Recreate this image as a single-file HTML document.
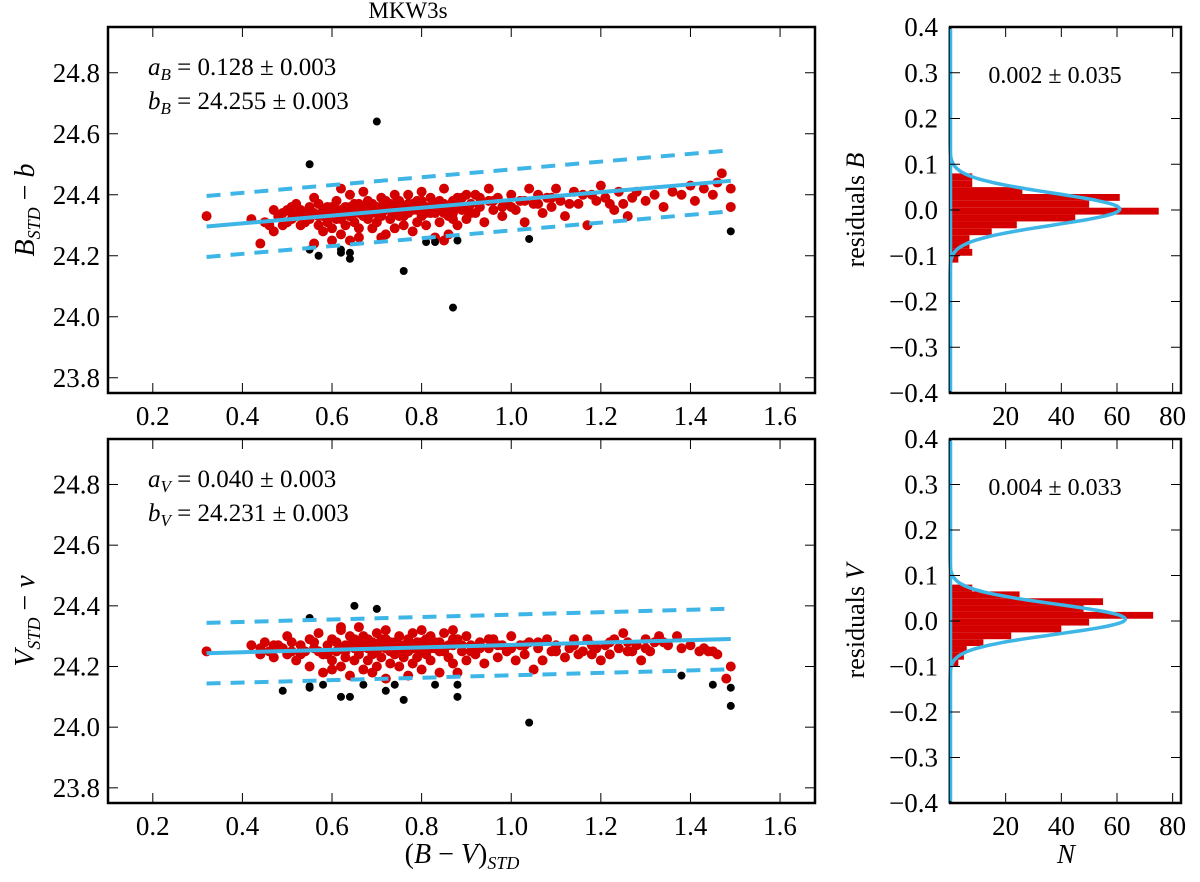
<!DOCTYPE html>
<html><head><meta charset="utf-8"><style>
body{margin:0;background:#fff}
svg{display:block;font-family:"Liberation Serif",serif}
</style></head><body>
<svg id="fig" width="1200" height="882" viewBox="0 0 1200 882" xmlns="http://www.w3.org/2000/svg">
<text x="408" y="18" font-size="23" text-anchor="middle">MKW3s</text>
</svg>
<script>
// ---- data ----
const xTicks = [0.2,0.4,0.6,0.8,1.0,1.2,1.4,1.6];
const yTicks = [23.8,24.0,24.2,24.4,24.6,24.8];
const hxTicks = [20,40,60,80];
const hyTicks = [-0.4,-0.3,-0.2,-0.1,0.0,0.1,0.2,0.3,0.4];
const fitB = [0.128, 24.255];
const fitV = [0.040, 24.231];
const bandWidth = [0.1];
const redB = [[0.32,24.33],[0.42,24.32],[0.44,24.24],[0.45,24.31],[0.46,24.30],[0.47,24.28],[0.48,24.33],[0.49,24.34],[0.50,24.35],[0.50,24.31],[0.51,24.36],[0.51,24.32],[0.52,24.37],[0.52,24.33],[0.53,24.35],[0.53,24.30],[0.54,24.34],[0.54,24.31],[0.55,24.36],[0.55,24.32],[0.56,24.39],[0.56,24.34],[0.57,24.30],[0.57,24.37],[0.58,24.33],[0.58,24.28],[0.59,24.36],[0.59,24.31],[0.60,24.34],[0.60,24.29],[0.61,24.38],[0.61,24.32],[0.62,24.35],[0.62,24.27],[0.63,24.30],[0.63,24.36],[0.64,24.33],[0.64,24.25],[0.65,24.37],[0.65,24.31],[0.66,24.34],[0.66,24.29],[0.67,24.41],[0.67,24.36],[0.68,24.32],[0.68,24.38],[0.69,24.34],[0.69,24.29],[0.70,24.36],[0.70,24.31],[0.71,24.39],[0.71,24.33],[0.72,24.35],[0.72,24.27],[0.73,24.37],[0.73,24.32],[0.74,24.34],[0.74,24.29],[0.75,24.38],[0.75,24.33],[0.76,24.36],[0.76,24.30],[0.77,24.40],[0.77,24.34],[0.78,24.37],[0.78,24.28],[0.79,24.35],[0.79,24.31],[0.80,24.38],[0.80,24.33],[0.81,24.36],[0.81,24.30],[0.82,24.39],[0.82,24.34],[0.83,24.37],[0.83,24.26],[0.84,24.35],[0.84,24.31],[0.85,24.42],[0.85,24.37],[0.86,24.33],[0.86,24.27],[0.87,24.38],[0.87,24.34],[0.88,24.36],[0.88,24.30],[0.89,24.39],[0.90,24.35],[0.90,24.32],[0.91,24.37],[0.92,24.40],[0.92,24.34],[0.93,24.36],[0.94,24.31],[0.95,24.38],[0.95,24.42],[0.96,24.35],[0.97,24.39],[0.98,24.33],[0.99,24.37],[1.00,24.40],[1.01,24.35],[1.02,24.38],[1.03,24.31],[1.04,24.42],[1.05,24.37],[1.06,24.40],[1.07,24.34],[1.08,24.39],[1.09,24.36],[1.10,24.42],[1.11,24.38],[1.12,24.33],[1.14,24.41],[1.15,24.37],[1.16,24.40],[1.17,24.30],[1.19,24.38],[1.20,24.43],[1.21,24.39],[1.23,24.35],[1.24,24.41],[1.25,24.37],[1.26,24.33],[1.28,24.41],[1.30,24.38],[1.32,24.40],[1.34,24.36],[1.36,24.41],[1.38,24.40],[1.40,24.43],[1.41,24.38],[1.43,24.42],[1.45,24.40],[1.46,24.44],[1.47,24.47],[1.49,24.42],[1.49,24.36],
[0.47,24.35],[0.49,24.30],[0.51,24.34],[0.53,24.33],[0.55,24.34],[0.57,24.33],[0.58,24.35],[0.59,24.33],[0.60,24.36],[0.61,24.35],[0.62,24.32],[0.63,24.34],[0.64,24.36],[0.65,24.34],[0.66,24.37],[0.67,24.33],[0.68,24.35],[0.69,24.37],[0.70,24.34],[0.71,24.36],[0.72,24.38],[0.73,24.35],[0.74,24.37],[0.75,24.35],[0.76,24.33],[0.77,24.37],[0.78,24.35],[0.79,24.38],[0.80,24.36],[0.81,24.34],[0.82,24.36],[0.83,24.34],[0.84,24.38],[0.85,24.34],[0.86,24.36],[0.87,24.32],[0.88,24.39],[0.89,24.35],[0.91,24.34],[0.93,24.39],[0.96,24.38],[0.98,24.36],[1.00,24.36],[1.03,24.38],[1.06,24.37],[1.09,24.39],[1.13,24.37],[1.18,24.40],[1.22,24.37],[1.27,24.39],[0.60,24.25],[0.66,24.26],[0.71,24.26],[0.85,24.25],[0.56,24.24],[0.80,24.41],[0.74,24.40],[0.64,24.40],[0.62,24.42],[0.90,24.40]];
const blackB = [[0.55,24.50],[0.70,24.64],[0.55,24.22],[0.57,24.20],[0.62,24.22],[0.64,24.21],[0.64,24.19],[0.62,24.21],[0.76,24.15],[0.81,24.245],[0.83,24.245],[0.88,24.25],[0.87,24.03],[1.04,24.255],[1.49,24.28]];
const redV = [[0.32,24.25],[0.42,24.27],[0.44,24.26],[0.45,24.28],[0.46,24.25],[0.47,24.23],[0.48,24.27],[0.49,24.26],[0.50,24.30],[0.50,24.24],[0.51,24.28],[0.52,24.22],[0.53,24.27],[0.54,24.25],[0.55,24.29],[0.55,24.20],[0.56,24.26],[0.57,24.31],[0.58,24.24],[0.58,24.18],[0.59,24.27],[0.60,24.22],[0.60,24.29],[0.61,24.25],[0.62,24.32],[0.62,24.20],[0.63,24.27],[0.63,24.23],[0.64,24.30],[0.64,24.17],[0.65,24.26],[0.65,24.22],[0.66,24.28],[0.66,24.24],[0.67,24.30],[0.67,24.19],[0.68,24.26],[0.68,24.22],[0.69,24.28],[0.69,24.24],[0.70,24.31],[0.70,24.20],[0.71,24.27],[0.71,24.23],[0.72,24.29],[0.72,24.16],[0.73,24.25],[0.73,24.21],[0.74,24.28],[0.74,24.24],[0.75,24.30],[0.75,24.20],[0.76,24.27],[0.76,24.23],[0.77,24.29],[0.77,24.25],[0.78,24.31],[0.78,24.21],[0.79,24.26],[0.79,24.23],[0.80,24.28],[0.80,24.19],[0.81,24.27],[0.81,24.24],[0.82,24.30],[0.82,24.22],[0.83,24.26],[0.84,24.28],[0.84,24.18],[0.85,24.25],[0.85,24.31],[0.86,24.23],[0.87,24.27],[0.87,24.21],[0.88,24.29],[0.88,24.18],[0.89,24.25],[0.90,24.30],[0.90,24.22],[0.91,24.27],[0.92,24.24],[0.93,24.28],[0.94,24.21],[0.95,24.26],[0.96,24.29],[0.97,24.23],[0.98,24.27],[0.99,24.25],[1.00,24.30],[1.01,24.22],[1.02,24.27],[1.03,24.24],[1.04,24.28],[1.05,24.19],[1.06,24.26],[1.07,24.22],[1.08,24.29],[1.09,24.25],[1.10,24.27],[1.12,24.23],[1.13,24.26],[1.14,24.29],[1.15,24.24],[1.16,24.25],[1.17,24.29],[1.18,24.24],[1.19,24.26],[1.20,24.22],[1.21,24.27],[1.22,24.24],[1.23,24.29],[1.24,24.26],[1.25,24.31],[1.26,24.28],[1.27,24.25],[1.28,24.27],[1.29,24.22],[1.30,24.29],[1.31,24.25],[1.32,24.28],[1.33,24.30],[1.34,24.28],[1.35,24.27],[1.37,24.30],[1.38,24.26],[1.40,24.27],[1.42,24.25],[1.43,24.26],[1.44,24.25],[1.45,24.25],[1.46,24.24],[1.48,24.16],[1.49,24.20],
[0.44,24.24],[0.47,24.27],[0.51,24.25],[0.53,24.24],[0.56,24.28],[0.57,24.25],[0.59,24.24],[0.61,24.28],[0.62,24.26],[0.63,24.25],[0.64,24.27],[0.65,24.29],[0.66,24.25],[0.67,24.27],[0.68,24.29],[0.69,24.26],[0.70,24.25],[0.71,24.29],[0.72,24.26],[0.73,24.28],[0.74,24.26],[0.75,24.27],[0.76,24.25],[0.77,24.27],[0.78,24.26],[0.79,24.28],[0.80,24.25],[0.81,24.29],[0.82,24.26],[0.83,24.28],[0.84,24.25],[0.86,24.27],[0.87,24.29],[0.89,24.27],[0.91,24.25],[0.93,24.26],[0.95,24.29],[0.97,24.27],[1.00,24.26],[1.03,24.27],[1.06,24.28],[1.10,24.25],[1.14,24.27],[1.18,24.27],[1.22,24.28],[1.26,24.25],[1.30,24.26],[0.66,24.33],[0.72,24.32],[0.80,24.32],[0.87,24.32],[0.69,24.18],[0.77,24.17],[0.60,24.19],[0.62,24.33]];
const blackV = [[0.49,24.12],[0.55,24.13],[0.55,24.135],[0.55,24.36],[0.58,24.14],[0.62,24.10],[0.64,24.10],[0.65,24.40],[0.70,24.39],[0.67,24.14],[0.72,24.12],[0.74,24.14],[0.76,24.09],[0.83,24.14],[0.88,24.14],[0.88,24.10],[1.04,24.015],[1.38,24.17],[1.45,24.14],[1.49,24.13],[1.49,24.07]];
const histBinsB = [-0.115,-0.1,-0.085,-0.07,-0.055,-0.04,-0.025,-0.01,0.005,0.02,0.035,0.05,0.065];
const histCountsB = [3,8,7,7,15,24,45,75,50,61,26,8,8];
const histBinsV = [-0.1,-0.085,-0.07,-0.055,-0.04,-0.025,-0.01,0.005,0.02,0.035,0.05,0.065];
const histCountsV = [3,5,6,12,22,40,50,73,48,55,25,8];
const gaussB = [61, 0.002, 0.035];
const gaussV = [63, 0.004, 0.033];
const binWidth = 0.015;

// ---- layout ----
const NS="http://www.w3.org/2000/svg";
const svg=document.getElementById('fig');
function mk(tag,attrs,parent){const e=document.createElementNS(NS,tag);for(const k in attrs)e.setAttribute(k,attrs[k]);(parent||svg).appendChild(e);return e;}
const BLUE="#3db5e6", RED="#d40000";
const L={x0:108,x1:815,xmin:0.1,xmax:1.678,ymin:23.75,ymax:24.95};
const R={x0:950,x1:1181,xmin:0,xmax:83,ymin:-0.4,ymax:0.4};
const rows=[{t:27,b:393},{t:439,b:803}];
function sx(p,v){return p.x0+(v-p.xmin)/(p.xmax-p.xmin)*(p.x1-p.x0);}
function sy(p,row,v){return row.b-(v-p.ymin)/(p.ymax-p.ymin)*(row.b-row.t);}

function scatterPanel(row,red,black,fit,name,ylabel,sub,txtA,txtB,letter){
  const g=mk('g',{});
  
  
  const clip=mk('clipPath',{id:'c'+name},g);
  mk('rect',{x:L.x0,y:row.t,width:L.x1-L.x0,height:row.b-row.t},clip);
  const pg=mk('g',{'clip-path':'url(#c'+name+')'},g);
  red.forEach(p=>{const c=mk('circle',{cx:sx(L,p[0]),cy:sy(L,row,p[1]),r:5,fill:RED},pg);
    
    });
  black.forEach(p=>{const c=mk('circle',{cx:sx(L,p[0]),cy:sy(L,row,p[1]),r:4,fill:'#000'},pg);
    
    });
  const xa=0.32, xb=1.49;
  [[0,'none'],[bandWidth[0],'14 10'],[-bandWidth[0],'14 10']].forEach(([o,d],i)=>{
    const ln=mk('line',{x1:sx(L,xa),y1:sy(L,row,fit[1]+fit[0]*xa+o),x2:sx(L,xb),y2:sy(L,row,fit[1]+fit[0]*xb+o),stroke:BLUE,'stroke-width':4,'stroke-dasharray':d},pg);
    
    
  });
  mk('rect',{x:L.x0,y:row.t,width:L.x1-L.x0,height:row.b-row.t,fill:'none',stroke:'#000','stroke-width':2.5},g);
  xTicks.forEach(v=>{const x=sx(L,v);
    mk('line',{x1:x,x2:x,y1:row.b,y2:row.b-10,stroke:'#000','stroke-width':1},g);
    mk('line',{x1:x,x2:x,y1:row.t,y2:row.t+10,stroke:'#000','stroke-width':1},g);
    const t=mk('text',{x:x,y:row.b+32,'font-size':27,'text-anchor':'middle'},g);t.textContent=v.toFixed(1);
    
    });
  yTicks.forEach(v=>{const y=sy(L,row,v);
    mk('line',{x1:L.x0,x2:L.x0+10,y1:y,y2:y,stroke:'#000','stroke-width':1},g);
    mk('line',{x1:L.x1,x2:L.x1-10,y1:y,y2:y,stroke:'#000','stroke-width':1},g);
    const t=mk('text',{x:L.x0-8,y:y+9,'font-size':27,'text-anchor':'end'},g);t.textContent=v.toFixed(1);
    
    });
  const cy=(row.t+row.b)/2;
  const yl=mk('text',{x:0,y:0,'font-size':28,'text-anchor':'middle',transform:`translate(34,${cy}) rotate(-90)`},g);
  yl.innerHTML=`<tspan font-style="italic">${ylabel}</tspan><tspan font-style="italic" font-size="18" dy="6">STD</tspan><tspan dy="-6"> − </tspan><tspan font-style="italic">${sub}</tspan>`;
  
  
  [[txtA,'a',row.t+48],[txtB,'b',row.t+82]].forEach(([s,c,y])=>{
    const t=mk('text',{x:148,y:y,'font-size':25},g);
    t.innerHTML=`<tspan font-style="italic">${c}</tspan><tspan font-style="italic" font-size="17" dy="5">${letter}</tspan><tspan dy="-5"> = ${s}</tspan>`;
    
    
  });
}
function histPanel(row,bins,counts,gauss,name,letter,txt,showX){
  const g=mk('g',{});
  
  
  bins.forEach((b,i)=>{const y1=sy(R,row,b+binWidth), y0=sy(R,row,b);
    const r=mk('rect',{x:R.x0,y:y1,width:sx(R,counts[i])-R.x0,height:y0-y1,fill:RED},g);
    
    });
  let d='';
  for(let k=0;k<=400;k++){const v=R.ymin+(R.ymax-R.ymin)*k/400;
    const n=gauss[0]*Math.exp(-Math.pow(v-gauss[1],2)/(2*gauss[2]*gauss[2]));
    d+=(k?'L':'M')+sx(R,n).toFixed(1)+','+sy(R,row,v).toFixed(1);}
  const c=mk('path',{d:d,fill:'none',stroke:BLUE,'stroke-width':3.5},g);
  
  
  mk('rect',{x:R.x0,y:row.t,width:R.x1-R.x0,height:row.b-row.t,fill:'none',stroke:'#000','stroke-width':2.5},g);
  mk('line',{x1:R.x0+1,x2:R.x0+1,y1:row.t+2,y2:row.b-2,stroke:BLUE,'stroke-width':2.5},g);
  hxTicks.forEach(v=>{const x=sx(R,v);
    mk('line',{x1:x,x2:x,y1:row.b,y2:row.b-10,stroke:'#000','stroke-width':1},g);
    mk('line',{x1:x,x2:x,y1:row.t,y2:row.t+10,stroke:'#000','stroke-width':1},g);
    const t=mk('text',{x:x,y:row.b+32,'font-size':27,'text-anchor':'middle'},g);t.textContent=v;
    
    });
  hyTicks.forEach(v=>{const y=sy(R,row,v);
    mk('line',{x1:R.x0,x2:R.x0+10,y1:y,y2:y,stroke:'#000','stroke-width':1},g);
    mk('line',{x1:R.x1,x2:R.x1-10,y1:y,y2:y,stroke:'#000','stroke-width':1},g);
    const t=mk('text',{x:R.x0-12,y:y+9,'font-size':27,'text-anchor':'end'},g);
    t.textContent=(v<0?'−':'')+Math.abs(v).toFixed(1);
    
    });
  const cy=(row.t+row.b)/2;
  const yl=mk('text',{x:0,y:0,'font-size':26,'text-anchor':'middle',transform:`translate(864,${cy}) rotate(-90)`},g);
  yl.innerHTML=`residuals <tspan font-style="italic">${letter}</tspan>`;
  
  
  const t=mk('text',{x:1055,y:row.t+56,'font-size':24,'text-anchor':'middle'},g);t.textContent=txt;
  
  
  if(showX){const xl=mk('text',{x:1066,y:row.b+60,'font-size':27,'text-anchor':'middle','font-style':'italic'},g);xl.textContent='N';
    
    }
}
scatterPanel(rows[0],redB,blackB,fitB,'b-scatter','B','b','0.128 ± 0.003','24.255 ± 0.003','B');
scatterPanel(rows[1],redV,blackV,fitV,'v-scatter','V','v','0.040 ± 0.003','24.231 ± 0.003','V');
histPanel(rows[0],histBinsB,histCountsB,gaussB,'b-hist','B','0.002 ± 0.035',false);
histPanel(rows[1],histBinsV,histCountsV,gaussV,'v-hist','V','0.004 ± 0.033',true);
const xl=mk('text',{x:462,y:863,'font-size':28,'text-anchor':'middle'});
xl.innerHTML='(<tspan font-style="italic">B</tspan> − <tspan font-style="italic">V</tspan>)<tspan font-style="italic" font-size="18" dy="6">STD</tspan>';


</script>
</body></html>
